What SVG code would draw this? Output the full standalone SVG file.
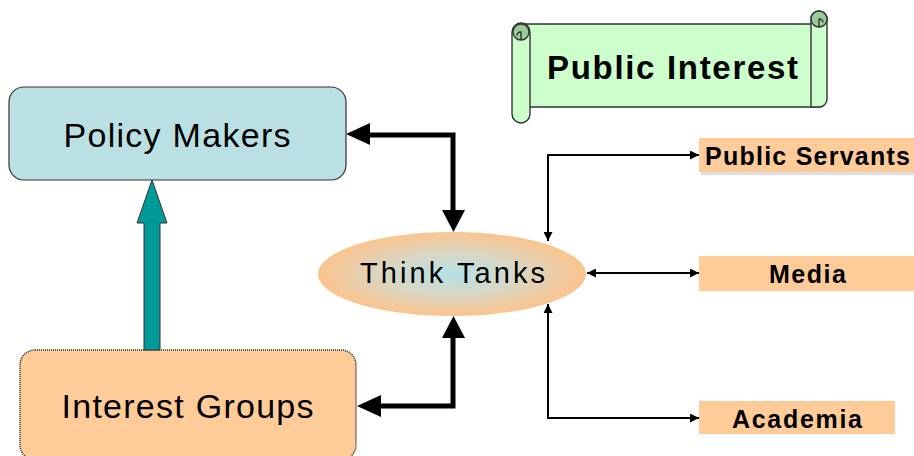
<svg xmlns="http://www.w3.org/2000/svg" width="914" height="456" viewBox="0 0 914 456">
  <defs>
    <style>
      .box-text { font-family: "Liberation Sans", Arial, sans-serif; fill: #000; text-anchor: middle; }
      .label { font-family: "Liberation Sans", Arial, sans-serif; font-weight: bold; font-size: 25px; fill: #000; text-anchor: middle; }
      .label-box { fill: #ffcc99; }
      .thick { fill: none; stroke: #000; stroke-width: 5; }
      .thin { fill: none; stroke: #000; stroke-width: 2; }
      .scroll { stroke: #333; stroke-width: 1.4; }
    </style>
    <radialGradient id="tankFill" cx="0.5" cy="0.5" r="0.5">
      <stop offset="0" stop-color="#b5e1e7"/>
      <stop offset="0.45" stop-color="#d6d8c8"/>
      <stop offset="1" stop-color="#fbc48e"/>
    </radialGradient>
    <marker id="headSmall" viewBox="0 0 10 10" refX="10" refY="5" markerWidth="9" markerHeight="9" markerUnits="userSpaceOnUse" orient="auto-start-reverse">
      <path d="M0,0 L10,5 L0,10 Z" fill="#000"/>
    </marker>
  </defs>

  <!-- Public Interest banner (horizontal scroll) -->
  <g id="public-interest">
    <!-- body -->
    <path class="scroll" fill="#ccffcc" d="M 522 24 H 826 V 99 A 8 8 0 0 1 818 107 H 522 Z"/>
    <!-- right roll -->
    <path class="scroll" fill="#ccffcc" d="M 811 19 A 8 8 0 0 1 827 19 V 99 A 8 8 0 0 1 819 107 L 811 107 Z"/>
    <circle class="scroll" fill="#99cc99" cx="819" cy="19" r="8"/>
    <path class="scroll" fill="none" d="M 819 27 V 19 A 3.5 3.5 0 0 1 823 22.5"/>
    <!-- left roll -->
    <path class="scroll" fill="#ccffcc" d="M 512 32 A 9 9 0 0 1 530 32 V 114 A 9 9 0 0 1 512 114 Z"/>
    <circle class="scroll" fill="#99cc99" cx="521" cy="32" r="8"/>
    <path class="scroll" fill="none" d="M 521 40 V 32 A 3.5 3.5 0 0 0 517 35.5"/>
    <text class="box-text" x="672.5" y="79" font-size="33" font-weight="bold" textLength="251" lengthAdjust="spacing">Public Interest</text>
  </g>

  <!-- Policy Makers -->
  <g id="policy-makers">
    <rect x="9" y="87" width="337" height="93" rx="15" ry="15" fill="#bbe0e3" stroke="#333" stroke-width="1.2"/>
    <text class="box-text" x="177" y="147" font-size="34" textLength="227" lengthAdjust="spacing">Policy Makers</text>
  </g>

  <!-- Interest Groups -->
  <g id="interest-groups">
    <rect x="20" y="350" width="336" height="110" rx="15" ry="15" fill="#ffcc99" stroke="#222" stroke-width="1.5" stroke-dasharray="1 1"/>
    <text class="box-text" x="187.5" y="418" font-size="34" textLength="252" lengthAdjust="spacing">Interest Groups</text>
  </g>

  <!-- Think Tanks -->
  <g id="think-tanks">
    <ellipse cx="452" cy="274" rx="134" ry="42" fill="url(#tankFill)"/>
    <text class="box-text" x="452.5" y="283" font-size="29" textLength="185" lengthAdjust="spacing">Think Tanks</text>
  </g>

  <!-- Stakeholder labels -->
  <g id="public-servants">
    <rect x="701" y="141" width="215" height="34" fill="#c8c8c8" opacity="0.6"/>
    <rect class="label-box" x="699" y="138" width="217" height="34"/>
    <text class="label" x="807.5" y="165" textLength="205" lengthAdjust="spacing">Public Servants</text>
  </g>
  <g id="media">
    <rect class="label-box" x="699" y="256" width="217" height="35"/>
    <text class="label" x="807.5" y="283" textLength="77" lengthAdjust="spacing">Media</text>
  </g>
  <g id="academia">
    <rect class="label-box" x="699" y="401" width="196" height="33"/>
    <text class="label" x="797" y="428" textLength="130" lengthAdjust="spacing">Academia</text>
  </g>

  <!-- Connectors -->
  <g id="connectors">
    <!-- Interest Groups -> Policy Makers (block arrow) -->
    <path d="M 144 350 V 223 H 137 L 152 180 L 167 223 H 160 V 350 Z" fill="#009999" stroke="#333" stroke-width="1"/>

    <!-- Policy Makers <-> Think Tanks -->
    <polyline class="thick" points="368,135 453,135 453,212"/>
    <path d="M 346 134 L 370 123 L 370 145 Z" fill="#000"/>
    <path d="M 442 210 L 465 210 L 453.5 232 Z" fill="#000"/>

    <!-- Interest Groups <-> Think Tanks -->
    <polyline class="thick" points="378,406 453,406 453,336"/>
    <path d="M 357 406 L 381 395 L 381 417 Z" fill="#000"/>
    <path d="M 442 338 L 465 338 L 453.5 316 Z" fill="#000"/>

    <!-- Think Tanks <-> Public Servants -->
    <polyline class="thin" points="548,241 548,155 699,155" marker-start="url(#headSmall)" marker-end="url(#headSmall)"/>
    <!-- Think Tanks <-> Media -->
    <line class="thin" x1="587" y1="273" x2="699" y2="273" marker-start="url(#headSmall)" marker-end="url(#headSmall)"/>
    <!-- Think Tanks <-> Academia -->
    <polyline class="thin" points="548,304 548,418 699,418" marker-start="url(#headSmall)" marker-end="url(#headSmall)"/>
  </g>
</svg>
